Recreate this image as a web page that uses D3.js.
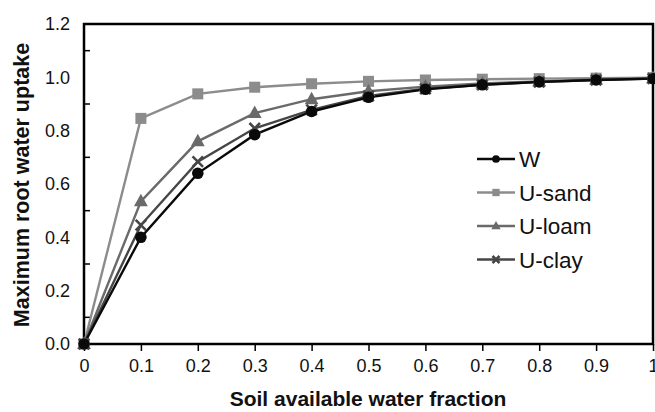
<!DOCTYPE html>
<html>
<head>
<meta charset="utf-8">
<script src="https://cdn.jsdelivr.net/npm/d3@7/dist/d3.min.js"></script>
<style>
  html, body { margin: 0; padding: 0; background: #fff; }
  svg { display: block; }
  text { font-family: Arial, "Liberation Sans", sans-serif; fill: #111; }
</style>
</head>
<body>
<svg id="chart" width="655" height="412"></svg>
<script>
// Soil available water fraction (x) and maximum root water uptake per model
const fractions = [0, 0.1, 0.2, 0.3, 0.4, 0.5, 0.6, 0.7, 0.8, 0.9, 1.0];
const wValues     = [0, 0.40, 0.64, 0.785, 0.872, 0.925, 0.955, 0.972, 0.983, 0.990, 0.995];
const uSandValues = [0, 0.846, 0.938, 0.963, 0.976, 0.985, 0.990, 0.993, 0.995, 0.997, 0.999];
const uLoamValues = [0, 0.535, 0.760, 0.866, 0.918, 0.948, 0.965, 0.977, 0.985, 0.992, 0.997];
const uClayValues = [0, 0.446, 0.684, 0.809, 0.878, 0.930, 0.957, 0.972, 0.982, 0.990, 0.995];

const seriesNames  = ["W", "U-sand", "U-loam", "U-clay"];
const xTickValues  = [0, 0.1, 0.2, 0.3, 0.4, 0.5, 0.6, 0.7, 0.8, 0.9, 1];
const yTickValues  = [0, 0.2, 0.4, 0.6, 0.8, 1.0, 1.2];
const yMinorTicks  = [0.1, 0.3, 0.5, 0.7, 0.9, 1.1];

const series = [
  { name: seriesNames[0], values: wValues,     color: "#0a0a0a", marker: "circle" },
  { name: seriesNames[1], values: uSandValues, color: "#8c8c8c", marker: "square" },
  { name: seriesNames[2], values: uLoamValues, color: "#6a6a6a", marker: "triangle" },
  { name: seriesNames[3], values: uClayValues, color: "#464646", marker: "cross" }
];

const svg = d3.select("#chart");
const margin = { left: 84, right: 2, top: 24, bottom: 68 };
const W = 655, H = 412;

const x = d3.scaleLinear().domain([0, 1]).range([margin.left, W - margin.right]);
const y = d3.scaleLinear().domain([0, 1.2]).range([H - margin.bottom, margin.top]);

// plot frame
svg.append("rect")
  .attr("x", x(0)).attr("y", y(1.2))
  .attr("width", x(1) - x(0)).attr("height", y(0) - y(1.2))
  .attr("fill", "none").attr("stroke", "#000").attr("stroke-width", 2.5);

// x axis: outward ticks, labels below
const xAxis = d3.axisBottom(x).tickValues(xTickValues).tickSize(7).tickPadding(8)
  .tickFormat(d => d === 0 ? "0" : d === 1 ? "1" : d3.format(".1f")(d));
const gx = svg.append("g").attr("transform", `translate(0,${y(0)})`).call(xAxis);
gx.select(".domain").remove();
gx.selectAll(".tick line").attr("stroke", "#000").attr("stroke-width", 1.5);
gx.selectAll(".tick text").attr("font-size", 18).attr("fill", "#111")
  .attr("font-family", "Arial, 'Liberation Sans', sans-serif");

// y axis: labels only, minor ticks drawn inside
const yAxis = d3.axisLeft(y).tickValues(yTickValues).tickSize(0).tickPadding(14)
  .tickFormat(d3.format(".1f"));
const gy = svg.append("g").attr("transform", `translate(${x(0)},0)`).call(yAxis);
gy.select(".domain").remove();
gy.selectAll(".tick text").attr("font-size", 18).attr("fill", "#111")
  .attr("font-family", "Arial, 'Liberation Sans', sans-serif");

svg.append("g").selectAll("line").data(yMinorTicks).join("line")
  .attr("x1", x(0)).attr("x2", x(0) + 6)
  .attr("y1", d => y(d)).attr("y2", d => y(d))
  .attr("stroke", "#000").attr("stroke-width", 1.5);

// axis titles
svg.append("text")
  .attr("x", 368).attr("y", 406)
  .attr("text-anchor", "middle").attr("font-weight", "bold").attr("font-size", 21)
  .text("Soil available water fraction");

svg.append("text")
  .attr("transform", `translate(29,${(y(0) + y(1.2)) / 2 + 1}) rotate(-90)`)
  .attr("text-anchor", "middle").attr("font-weight", "bold").attr("font-size", 21.5)
  .text("Maximum root water uptake");

// markers
function drawMarker(g, type, color, size) {
  if (type === "circle") {
    g.append("circle").attr("r", size * 0.55).attr("fill", color);
  } else if (type === "square") {
    const s = size * 1.05;
    g.append("rect").attr("x", -s / 2).attr("y", -s / 2).attr("width", s).attr("height", s).attr("fill", color);
  } else if (type === "triangle") {
    const s = size * 1.2;
    g.append("path").attr("d", `M0,${-s * 0.6}L${s * 0.55},${s * 0.4}L${-s * 0.55},${s * 0.4}Z`).attr("fill", color);
  } else if (type === "cross") {
    const s = size * 0.5;
    g.append("path").attr("d", `M${-s},${-s}L${s},${s}M${-s},${s}L${s},${-s}`)
      .attr("stroke", color).attr("stroke-width", 2.6).attr("fill", "none");
  }
}

const line = d3.line().x((d, i) => x(fractions[i])).y(d => y(d));
const plot = svg.append("g");

// draw in order so W sits on top
const drawOrder = [1, 2, 3, 0];
drawOrder.forEach(k => {
  const s = series[k];
  plot.append("path").datum(s.values).attr("d", line)
    .attr("fill", "none").attr("stroke", s.color).attr("stroke-width", 2.4);
});
drawOrder.forEach(k => {
  const s = series[k];
  s.values.forEach((v, i) => {
    const g = plot.append("g").attr("transform", `translate(${x(fractions[i])},${y(v)})`);
    drawMarker(g, s.marker, s.color, 10.5);
  });
});

// legend
const legend = svg.append("g").attr("transform", "translate(477,159)");
series.forEach((s, i) => {
  const g = legend.append("g").attr("transform", `translate(0,${i * 33.5})`);
  g.append("line").attr("x1", 0).attr("x2", 38).attr("y1", 0).attr("y2", 0)
    .attr("stroke", s.color).attr("stroke-width", 2.4);
  const m = g.append("g").attr("transform", "translate(19,0)");
  drawMarker(m, s.marker, s.color, 7);
  g.append("text").attr("x", 42).attr("y", 0).attr("dy", "0.36em")
    .attr("font-size", 22.5).text(s.name);
});
</script>
</body>
</html>
